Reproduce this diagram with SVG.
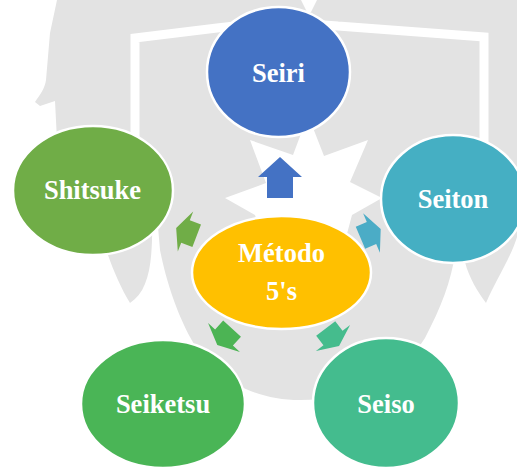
<svg xmlns="http://www.w3.org/2000/svg" width="517" height="468" viewBox="0 0 517 468">
  <style>
    .node { stroke: #ffffff; stroke-width: 2.5; }
    .label { font-family: "Liberation Serif", "Times New Roman", serif; font-weight: bold; font-size: 26.5px; fill: #ffffff; text-anchor: middle; }
    .mark { fill: #e3e3e3; }
  </style>
  <defs>
    <!-- short block arrow, head base centred on the origin, pointing up -->
    <polygon id="stub-arrow" points="0,-10 21.5,0 12,0 12,12 -12,12 -12,0 -21.5,0"/>
  </defs>
  <rect width="517" height="468" fill="#ffffff"/>

  <!-- faint crest in the background -->
  <g id="background">
    <path class="mark" d="M57,0 L517,0 L517,237 C512,255 495,282 486,303 C478,292 469,278 465,262 L462,235 L457,235 C455,270 445,300 425,338 C400,378 355,400 300,400 C250,400 210,375 190,337 C180,318 168,290 160,250 L157,215 L152,215 C153,260 150,290 130,303 C122,290 113,270 108,255 C90,225 65,180 57,140 L55,101 L40,106 L35,102 C40,95 45,88 46,80 L50,33 Z"/>
    <path d="M135,150 L135,38 L217,28 Q280,20 338,26 L484,37 L484,160" fill="none" stroke="#ffffff" stroke-width="9"/>
    <polygon points="301,0 317,0 311,12 307,12" fill="#ffffff"/>
    <polygon points="250,140 293,155 308,115 324,156 368,140 350,182 382,198 352,215 340,260 305,240 270,260 255,215 225,198 266,183" fill="#ffffff"/>
  </g>

  <!-- arrows from the centre out to each stage -->
  <g id="connectors">
    <polygon points="280,157 302,177 293,177 293,198 267,198 267,177 258,177" fill="#4472c4"/>
    <use href="#stub-arrow" transform="translate(371.5,233) rotate(67)" fill="#4bacc6"/>
    <use href="#stub-arrow" transform="translate(333,338) rotate(142.6)" fill="#45bc8d"/>
    <use href="#stub-arrow" transform="translate(224,337.5) rotate(-137.8)" fill="#4cb454"/>
    <use href="#stub-arrow" transform="translate(185.5,231.5) rotate(-69)" fill="#70ad47"/>
  </g>

  <g id="seiri">
    <ellipse class="node" cx="278.5" cy="72" rx="71.5" ry="65" fill="#4472c4"/>
    <text class="label" x="278.5" y="81.5">Seiri</text>
  </g>
  <g id="seiton">
    <ellipse class="node" cx="453" cy="199" rx="72" ry="64" fill="#45afc3"/>
    <text class="label" x="453" y="208">Seiton</text>
  </g>
  <g id="shitsuke">
    <ellipse class="node" cx="93" cy="190.5" rx="80" ry="64.5" fill="#70ad47"/>
    <text class="label" x="92.5" y="199">Shitsuke</text>
  </g>
  <g id="seiketsu">
    <ellipse class="node" cx="163" cy="404" rx="82" ry="64" fill="#4ab556"/>
    <text class="label" x="163" y="413">Seiketsu</text>
  </g>
  <g id="seiso">
    <ellipse class="node" cx="386" cy="403" rx="73" ry="65" fill="#44bc8e"/>
    <text class="label" x="386" y="413">Seiso</text>
  </g>
  <g id="metodo">
    <ellipse class="node" cx="281.5" cy="272.5" rx="89.5" ry="56.5" fill="#ffc000"/>
    <text class="label" x="281.5" y="262">Método</text>
    <text class="label" x="281.5" y="300">5's</text>
  </g>
</svg>
